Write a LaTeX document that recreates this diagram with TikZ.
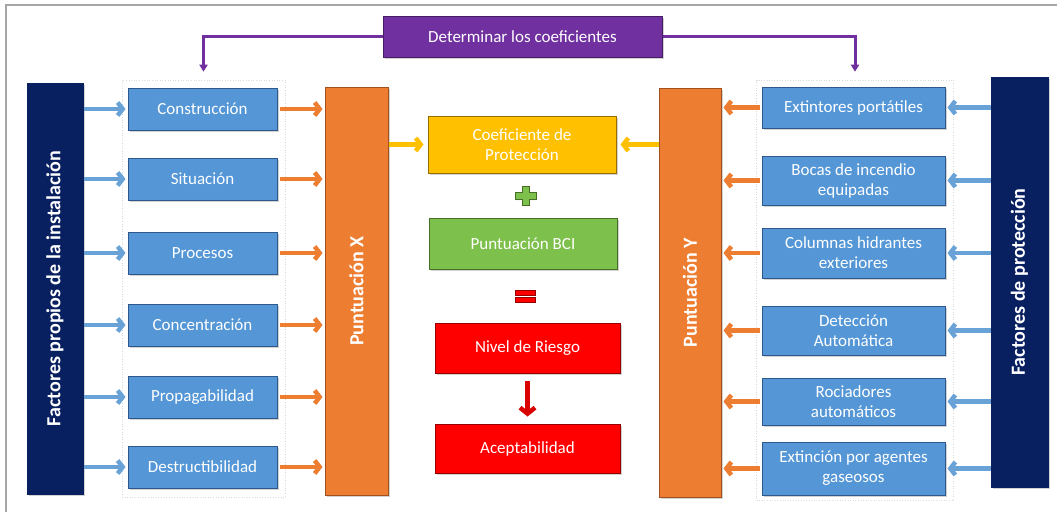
\documentclass[tikz,border=0pt]{standalone}
\usepackage{fontspec}
\setmainfont{Carlito}
\usetikzlibrary{arrows.meta,shadows}
\definecolor{navy}{RGB}{8,32,96}
\definecolor{boxblue}{RGB}{84,150,214}
\definecolor{boxblueD}{RGB}{46,88,140}
\definecolor{arrblue}{RGB}{105,162,215}
\definecolor{orng}{RGB}{237,125,49}
\definecolor{orngD}{RGB}{160,80,30}
\definecolor{ylw}{RGB}{255,192,0}
\definecolor{ylwD}{RGB}{150,110,0}
\definecolor{grn}{RGB}{125,192,75}
\definecolor{grnD}{RGB}{70,110,40}
\definecolor{rd}{RGB}{255,0,0}
\definecolor{rdD}{RGB}{150,0,0}
\definecolor{prp}{RGB}{112,48,160}
\definecolor{prpD}{RGB}{70,30,100}
\tikzset{
  base/.style={draw, line width=1pt, text=white, align=center, inner sep=2pt,
    drop shadow={opacity=0.35, shadow xshift=2pt, shadow yshift=-2pt},
    font=\fontsize{17}{20}\selectfont},
  bbox/.style={base, fill=boxblue, draw=boxblueD},
  lbox/.style={bbox, minimum width=149pt, minimum height=42pt},
  rbox/.style={bbox, minimum width=183pt},
  bar/.style={base, rotate=90, font=\fontsize{20}{23}\bfseries\selectfont},
  navybar/.style={bar, fill=navy, draw=navy},
  orbar/.style={bar, fill=orng, draw=orngD},
  grp/.style={draw=gray!30, dotted, line width=0.6pt},
  barr/.style={draw=arrblue, line width=4.5pt, -{Straight Barb[length=5pt,width=13pt]}},
  oarr/.style={draw=orng, line width=4.5pt, -{Straight Barb[length=5pt,width=13pt]}},
  yarr/.style={draw=ylw, line width=4.5pt, -{Straight Barb[length=5pt,width=13pt]}},
  rarr/.style={draw=rd!85!black, line width=4.5pt, -{Straight Barb[length=6pt,width=15pt]}},
  parr/.style={draw=prp, line width=3pt, -{Triangle[length=7pt,width=8pt]}},
}
\begin{document}
\begin{tikzpicture}[x=1pt,y=-1pt]
\useasboundingbox[fill=white] (0,0) rectangle (1057,512);
\draw[gray!70, line width=1.5pt] (6,512) -- (6,5) -- (1057,5);

% group frames
\node[grp, minimum width=163pt, minimum height=417pt] (lgrp) at (203.5,288.5) {};
\node[grp, minimum width=197pt, minimum height=420pt] (rgrp) at (855,290) {};

% purple box
\node[base, fill=prp, draw=prpD, minimum width=279pt, minimum height=41pt] (det) at (522.5,36.5) {Determinar los coeficientes};

% left side
\node[navybar, minimum width=411pt, minimum height=56pt] (lnav) at (55,288.5) {Factores propios de la instalación};
\node[lbox] (c1) at (202.5,109) {Construcción};
\node[lbox] (c2) at (202.5,179) {Situación};
\node[lbox] (c3) at (202.5,253) {Procesos};
\node[lbox] (c4) at (202.5,325) {Concentración};
\node[lbox] (c5) at (202.5,397) {Propagabilidad};
\node[lbox] (c6) at (202.5,467) {Destructibilidad};
\node[orbar, minimum width=408pt, minimum height=63pt] (px) at (356.5,291) {Puntuación X};

% centre
\node[base, fill=ylw, draw=ylwD, minimum width=188pt, minimum height=57pt] (yel) at (522,144.5) {Coeficiente de\\Protección};
\node[base, fill=grn, draw=grnD, minimum width=188pt, minimum height=51pt] (bci) at (523,243.5) {Puntuación BCI};
\node[base, fill=rd, draw=rdD, minimum width=185pt, minimum height=50pt] (niv) at (527.5,348) {Nivel de Riesgo};
\node[base, fill=rd, draw=rdD, minimum width=185pt, minimum height=49pt] (acc) at (527.5,448.5) {Aceptabilidad};

% plus sign
\filldraw[fill=grn, draw=grnD, line width=1pt, drop shadow={opacity=0.3, shadow xshift=1pt, shadow yshift=-1pt}]
  (522,186) -- (529,186) -- (529,192) -- (536,192) -- (536,199) -- (529,199) -- (529,205)
  -- (522,205) -- (522,199) -- (515,199) -- (515,192) -- (522,192) -- cycle;
% equal sign
\filldraw[fill=rd, draw=rdD, line width=1pt] (515,290) rectangle (535,295);
\filldraw[fill=rd, draw=rdD, line width=1pt] (515,297) rectangle (535,302);

% right side
\node[orbar, minimum width=409pt, minimum height=62pt] (py) at (690,292.5) {Puntuación Y};
\node[rbox, minimum height=41pt] (r1) at (853.5,107.5) {Extintores portátiles};
\node[rbox, minimum height=49pt] (r2) at (853.5,180.5) {Bocas de incendio\\equipadas};
\node[rbox, minimum height=50pt] (r3) at (853.5,253) {Columnas hidrantes\\exteriores};
\node[rbox, minimum height=49pt] (r4) at (853.5,330.5) {Detección\\Automática};
\node[rbox, minimum height=47pt] (r5) at (853.5,401.5) {Rociadores\\automáticos};
\node[rbox, minimum height=53pt] (r6) at (853.5,468.5) {Extinción por agentes\\gaseosos};
\node[navybar, minimum width=410pt, minimum height=57pt] (rnav) at (1019.5,282) {Factores de protección};

% purple connectors
\draw[parr, shorten >=8pt] (det.west) -| (lgrp.north);
\draw[parr, shorten >=8pt] (det.east) -| (rgrp.north);

% left arrows
\foreach \n in {c1,c2,c3,c4,c5,c6}{
  \draw[barr, shorten >=2pt] (lnav.south |- \n.west) -- (\n.west);
  \draw[oarr, shorten <=2pt, shorten >=2pt] (\n.east) -- (px.north |- \n.east);
}
% right arrows
\foreach \n in {r1,r2,r3,r4,r5,r6}{
  \draw[barr, shorten >=2pt] (rnav.north |- \n.east) -- (\n.east);
  \draw[oarr, shorten <=2pt, shorten >=2pt] (\n.west) -- (py.south |- \n.west);
}
% yellow arrows
\draw[yarr, shorten >=4pt] (px.south |- yel.west) -- (yel.west);
\draw[yarr, shorten >=4pt] (py.north |- yel.east) -- (yel.east);
% red arrow
\draw[rarr, shorten <=7pt, shorten >=7pt] (niv.south) -- (acc.north);
\end{tikzpicture}
\end{document}
